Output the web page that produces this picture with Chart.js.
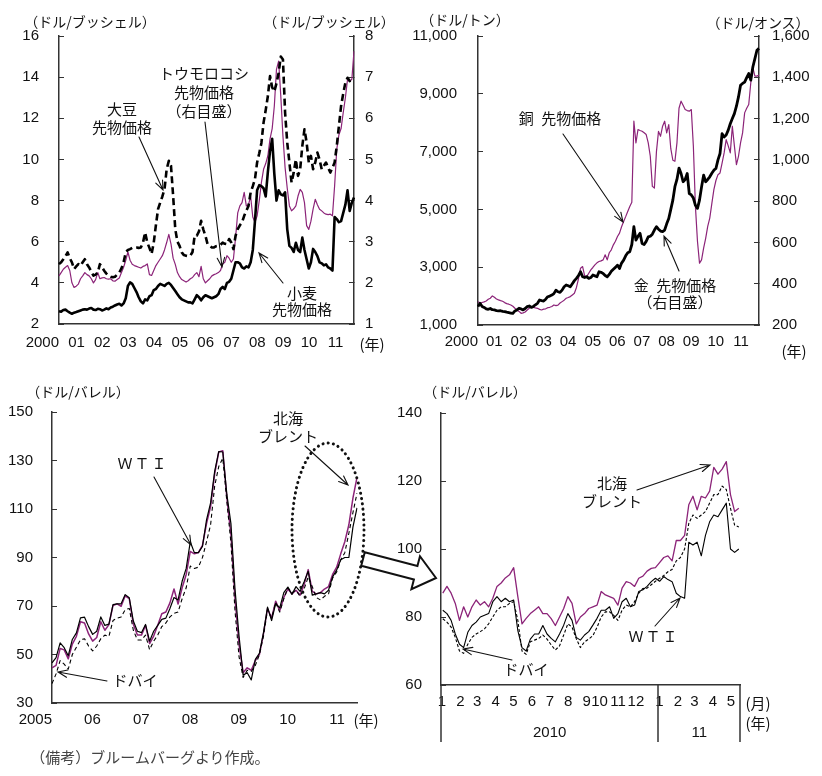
<!DOCTYPE html>
<html><head><meta charset="utf-8">
<script src="https://cdn.jsdelivr.net/npm/chart.js@4.4.1/dist/chart.umd.min.js"></script>
<style>
html,body{margin:0;padding:0;background:#fff;}
body{width:822px;height:776px;position:relative;overflow:hidden;font-family:"Noto Sans CJK JP",sans-serif;color:#111;}
canvas{position:absolute;}
.t{position:absolute;white-space:nowrap;font-size:15px;line-height:18px;text-align:center;transform:translate(-50%,-50%);z-index:5;}
.ti{font-size:14px;}
</style></head><body>
<canvas id="c1" width="410" height="370" style="left:0;top:0"></canvas>
<canvas id="c2" width="422" height="370" style="left:400px;top:0"></canvas>
<canvas id="c3" width="410" height="406" style="left:0;top:370px"></canvas>
<canvas id="c4" width="427" height="406" style="left:395px;top:370px"></canvas>
<canvas id="ov" width="822" height="776" style="left:0;top:0;z-index:4"></canvas>

<div class="t ti" style="left:90px;top:21px">（ドル/ブッシェル）</div>
<div class="t ti" style="left:329px;top:21px">（ドル/ブッシェル）</div>
<div class="t" style="left:372px;top:344px">(年)</div>
<div class="t" style="left:122px;top:118px">大豆<br>先物価格</div>
<div class="t" style="left:204px;top:91px;line-height:19px">トウモロコシ<br>先物価格<br>（右目盛）</div>
<div class="t" style="left:302px;top:301px;line-height:16px">小麦<br>先物価格</div>

<div class="t ti" style="left:465px;top:19px">（ドル/トン）</div>
<div class="t ti" style="left:758px;top:22px">（ドル/オンス）</div>
<div class="t" style="left:794px;top:351px">(年)</div>
<div class="t" style="left:560px;top:118px">銅&ensp;先物価格</div>
<div class="t" style="left:675px;top:293px;line-height:17px">金&ensp;先物価格<br>（右目盛）</div>

<div class="t ti" style="left:78px;top:391px">（ドル/バレル）</div>
<div class="t" style="left:366px;top:720px">(年)</div>
<div class="t" style="left:143px;top:463px;letter-spacing:2px">ＷＴＩ</div>
<div class="t" style="left:288px;top:427px">北海<br>ブレント</div>
<div class="t" style="left:135px;top:680px">ドバイ</div>

<div class="t ti" style="left:475px;top:391px">（ドル/バレル）</div>
<div class="t" style="left:758px;top:703px">(月)</div>
<div class="t" style="left:758px;top:723px">(年)</div>
<div class="t" style="left:612px;top:492px">北海<br>ブレント</div>
<div class="t" style="left:526px;top:669px">ドバイ</div>
<div class="t" style="left:654px;top:636px;letter-spacing:2px">ＷＴＩ</div>

<div class="t" style="left:150px;top:757px;font-size:15px;color:#444">（備考）ブルームバーグより作成。</div>

<script>
// ---------------- DATA ----------------
// Panel 1: grains, monthly Jan 2000 - Jun 2011
const months1 = Array.from({length:138},(_,i)=>`${2000+Math.floor(i/12)}-${String(i%12+1).padStart(2,'0')}`);
const yearTicks1 = ['2000','01','02','03','04','05','06','07','08','09','10','11'];
const wheat = [2.62,2.6,2.68,2.7,2.62,2.55,2.5,2.55,2.58,2.62,2.66,2.7,
 2.72,2.7,2.75,2.78,2.7,2.68,2.74,2.72,2.66,2.7,2.76,2.72,
 2.8,2.84,2.9,2.95,2.98,2.9,3.0,3.25,3.85,4.02,3.95,3.75,
 3.55,3.3,3.1,3.0,3.2,3.15,3.35,3.4,3.65,3.7,3.85,3.95,
 3.9,3.85,3.95,4.0,3.9,3.75,3.6,3.45,3.3,3.2,3.15,3.1,
 3.05,3.05,3.0,3.2,3.4,3.3,3.15,3.3,3.4,3.35,3.3,3.25,
 3.3,3.35,3.45,3.7,3.8,3.7,4.0,4.05,4.2,4.6,5.0,5.0,
 4.95,4.75,4.7,4.8,4.75,5.0,5.6,7.0,8.5,8.75,8.7,8.6,
 8.2,9.4,10.4,11.0,9.3,8.0,8.5,8.3,8.25,8.4,6.6,5.8,
 5.7,5.5,5.95,5.6,5.5,6.2,5.6,5.15,4.7,5.0,5.65,5.5,
 5.3,5.0,4.95,4.85,4.9,4.75,4.7,4.6,7.2,7.1,6.95,7.0,
 7.4,7.8,8.5,7.5,7.9,8.15];
const corn = [2.17,2.25,2.33,2.38,2.42,2.3,2.0,1.89,1.92,1.97,2.1,2.17,
 2.25,2.2,2.17,2.1,2.0,2.08,2.25,2.1,2.12,2.13,2.1,2.09,
 2.1,2.05,2.04,2.08,2.12,2.25,2.38,2.55,2.75,2.55,2.45,2.42,
 2.4,2.38,2.36,2.4,2.42,2.46,2.2,2.18,2.3,2.42,2.5,2.58,
 2.66,2.8,2.98,3.18,2.95,2.6,2.45,2.25,2.15,2.08,2.05,2.02,
 2.05,2.1,2.13,2.2,2.25,2.15,2.4,2.1,2.0,2.05,2.1,2.17,
 2.2,2.22,2.25,2.3,2.46,2.5,2.66,2.6,2.5,2.58,3.1,3.7,
 3.87,3.95,4.2,3.87,3.9,4.1,3.6,3.47,3.63,4.0,4.44,4.76,
 4.9,5.09,5.5,5.75,6.3,7.19,7.39,6.54,5.57,4.8,4.3,3.87,
 3.75,3.8,3.87,4.11,4.27,4.2,3.95,3.39,3.3,3.5,3.79,4.03,
 3.9,3.79,3.75,3.7,3.67,3.66,3.67,3.63,4.36,5.25,5.6,5.75,
 6.14,6.5,6.95,6.9,6.95,7.63];
const soybean = [4.91,5.0,5.15,5.3,5.48,5.2,5.0,4.67,4.8,4.91,4.83,5.0,
 5.15,4.9,4.75,4.55,4.35,4.4,4.5,4.91,4.75,4.59,4.45,4.35,
 4.3,4.27,4.3,4.4,4.5,4.7,5.0,5.48,5.6,5.64,5.7,5.72,
 5.72,5.7,5.72,5.96,6.45,5.96,5.7,5.4,5.96,6.8,7.58,7.9,
 8.2,8.55,9.52,9.93,9.7,8.23,6.61,6.0,5.8,5.48,5.35,5.32,
 5.3,5.32,5.5,6.29,6.29,6.5,7.02,6.6,6.29,5.88,5.8,5.72,
 5.72,5.78,5.8,5.85,5.96,5.9,5.88,6.13,5.96,5.64,6.29,6.61,
 6.8,6.94,7.26,7.5,7.74,8.39,8.7,9.04,9.85,10.3,10.8,11.79,
 12.4,13.08,14.05,13.5,13.3,13.7,14.2,15.0,14.86,12.27,10.82,9.85,
 8.88,9.36,10.0,9.2,9.52,10.66,11.47,10.82,9.85,10.17,9.52,9.85,
 10.33,10.0,9.52,9.69,9.85,9.6,9.36,9.6,9.85,10.66,11.63,12.6,
 13.2,13.73,13.97,13.81,13.85,13.9];

// Panel 2: copper (USD/t) and gold (USD/oz), monthly Jan 2000 - Jun 2011
const copper = [1809,1750,1780,1800,1830,1890,1925,2005,1960,1900,1870,1844,
 1820,1775,1740,1720,1694,1650,1580,1520,1470,1405,1420,1450,
 1520,1580,1636,1610,1590,1578,1540,1520,1550,1560,1600,1612,
 1640,1694,1670,1690,1760,1809,1860,1925,1950,1983,2040,2098,
 2300,2600,2965,3023,2700,2676,2792,2907,2990,3081,3150,3196,
 3220,3254,3428,3254,3500,3601,3774,3900,4063,4179,4400,4584,
 4750,4930,5100,5250,8052,7300,7763,7730,7705,7650,7589,7300,
 6838,5797,5740,7000,7700,7531,7878,8052,7647,7936,7100,6700,
 6664,7300,8500,8745,8600,8456,8420,8398,8456,7185,5104,3900,
 3139,3254,3659,4000,4410,4699,5200,5682,6000,6202,6260,6600,
 6954,7416,7200,6954,7878,7200,6549,6838,7300,7647,8340,8500,
 8630,9381,9901,9612,9612,9650];
const gold = [289,305,290,285,278,276,280,274,273,270,268,269,
 266,265,262,260,258,256,268,273,281,278,273,280,
 289,292,285,290,298,305,321,318,316,325,337,340,
 345,352,369,361,358,369,385,394,390,385,400,415,
 426,440,458,434,430,434,426,430,442,438,434,458,
 455,450,440,434,445,460,470,479,490,474,500,514,
 535,550,555,590,676,611,630,644,595,590,605,627,
 630,640,660,676,664,655,652,660,690,716,760,805,
 870,905,960,934,894,905,934,837,830,815,780,765,
 805,869,926,894,905,918,935,950,958,1000,1031,1127,
 1111,1120,1144,1175,1200,1224,1260,1305,1361,1370,1377,1398,
 1418,1386,1450,1490,1531,1540];

// Panel 3: crude oil, monthly Jan 2005 - Apr 2011
const months3 = Array.from({length:76},(_,i)=>`${2005+Math.floor(i/12)}-${String(i%12+1).padStart(2,'0')}`);
const yearTicks3 = ['2005','06','07','08','09','10','11'];
const wti3 = [46.5,48.7,54.8,52.8,49.5,56.2,58.9,65.1,65.4,61.5,58.3,59.6,
 65.5,62.0,62.5,70.6,70.9,70.9,74.7,73.4,63.8,59.6,59.0,62.4,
 55.5,59.6,62.0,64.5,65.0,69.0,73.5,72.5,80.2,85.5,96.5,92.0,
 92.0,94.6,105.5,112.5,125.5,133.7,133.5,116.0,104.0,77.0,57.5,41.5,
 42.5,39.5,48.0,50.5,59.0,69.5,64.0,71.0,69.2,75.5,77.8,74.8,
 78.0,76.0,80.0,84.3,74.5,75.0,75.5,75.0,76.5,82.0,84.8,89.1,
 90.0,90.0,102.5,110.5];
const brent3 = [44.5,45.5,52.5,51.9,48.2,54.3,57.5,63.5,63.0,58.5,55.5,57.0,
 63.5,60.0,62.3,70.2,70.9,69.9,74.2,73.0,62.5,58.0,58.0,62.0,
 54.5,57.6,62.1,66.8,67.5,71.3,77.0,70.8,77.5,83.0,92.5,91.5,
 92.0,95.0,104.0,111.0,124.5,133.5,134.0,114.5,99.5,73.0,54.0,42.5,
 44.5,43.5,47.5,50.0,58.5,69.0,65.0,72.0,68.0,73.5,77.0,75.0,
 76.5,74.5,78.8,85.0,76.0,75.0,75.5,77.0,78.0,83.0,86.0,91.5,
 96.5,103.5,114.5,123.0];
const dubai3 = [38.0,42.0,47.5,46.0,44.0,50.0,53.0,56.0,56.5,53.5,51.5,53.5,
 56.5,58.0,57.5,64.0,65.0,65.5,68.5,69.0,60.0,56.0,56.0,58.0,
 52.0,55.5,58.0,61.5,63.0,65.5,67.0,67.5,73.0,77.5,86.5,85.5,
 86.0,90.0,96.5,103.5,119.5,127.5,131.0,113.0,96.0,68.0,49.0,40.5,
 43.5,43.0,45.5,50.0,57.5,68.5,65.0,71.5,67.5,73.0,77.5,75.5,
 76.5,74.0,77.0,82.0,78.0,73.5,72.5,74.0,75.0,81.5,84.0,89.0,
 92.0,100.0,108.5,116.5];

// Panel 4: crude oil, weekly from 4 Jan 2010 to mid-May 2011 (x = days since 1 Jan 2010)
const days4 = Array.from({length:72},(_,i)=>3+7*i);
const monthStarts4 = [0,31,59,90,120,151,181,212,243,273,304,334,365,396,424,455,485];
const monthTicks4 = ['1','2','3','4','5','6','7','8','9','10','11','12','1','2','3','4','5'];
const yearTicks4 = ['2010','11'];
const yearStarts4 = [0,365];
const brent4 = [87,89,87,84,79,83,80,83,85,83.5,84.5,83,85.5,89,90,91.5,92.4,94.5,86,78,
 79.6,81,82,83,81,81,79.5,77.5,80,82.5,86,84,78,80,81,82.5,83,83.5,87.5,86.5,
 86,85.5,83.5,88.5,90.4,90,89,91.4,92,93.5,94.3,94.5,96,97.5,98,96.5,102.5,102.5,104,113,
 115.5,111.5,115.5,115,117,124,122,123.5,125.7,116,111,112];
const wti4 = [82,81,79,75,72,71,75.5,77.5,78.5,80,80.5,81,84.5,86,84.5,85.5,84.5,85,76,71,
 70,73.5,75,75,77.5,75,73.7,72.7,75,77.6,81,79,74,73.2,74.7,75.7,
 77.6,79.6,82,82,83,79.6,81,84.5,85.5,83,83.5,87.5,88,89,90.4,91.4,90.5,91.9,91,90.4,
 87,86,85.5,102,101.2,102,98,104,108,110,109.5,111.5,113.5,100,99,100];
const dubai4 = [79.5,78.5,77,74,70,69.3,72,74,75,75.7,76.5,78,80,82,83,83,84,84.5,79,70,
 69,72.7,73.2,73.7,74.7,73.5,71.8,70.3,71.5,74.7,78,77,73.7,71,72.7,73.5,
 74.5,77,80,81.5,81.5,80.5,79,82,83.5,83,84.5,87,88.4,88.5,89.5,90.5,91.4,92.2,93.3,94,
 96.5,97.5,100,107.5,110,109,110,111,113.5,116,116,118.5,117.5,112,107,106.5];

// ---------------- STYLE / HELPERS ----------------
const NUM = '"Liberation Sans", Arial, sans-serif';
const PURPLE = '#8C2479';
const AX = '#333';
Chart.defaults.font.family = NUM;
Chart.defaults.color = '#111';

function yAxis(pos, min, max, step, pad, width, fmt) {
  return {
    type:'linear', position:pos, min:min, max:max,
    ticks:{stepSize:step, padding:pad, color:'#111', font:{family:NUM,size:15}, callback: fmt || (v=>v)},
    grid:{display:true, drawOnChartArea:false, drawTicks:true, tickLength:-5, color:AX, lineWidth:1},
    border:{display:true, color:AX, width:1.5},
    afterFit:s=>{ s.width = width; }
  };
}
function catX(labels, yearTicks, height, pad) {
  return {
    type:'category', offset:false,
    ticks:{autoSkip:false, maxRotation:0, minRotation:0, align:'end', padding:pad, color:'#111',
      font:{family:NUM,size:15},
      callback:(v,i)=> (i%12===0 ? (yearTicks[i/12]||'') : '')},
    grid:{display:true, drawOnChartArea:false, drawTicks:false},
    border:{display:true, color:AX, width:1.5},
    afterFit:s=>{ s.height = height; }
  };
}
function line(label, data, color, width, dash, axis) {
  return {label, data, borderColor:color, borderWidth:width, borderDash:dash||[], yAxisID:axis||'y',
    pointRadius:0, tension:0, fill:false, borderJoinStyle:'round'};
}
const common = {responsive:false, animation:false, devicePixelRatio:1,
  plugins:{legend:{display:false}, tooltip:{enabled:false}}};

// Panel 1
new Chart(document.getElementById('c1'), {
  type:'line',
  data:{labels:months1, datasets:[
    line('小麦', wheat, '#000', 2.6),
    line('大豆', soybean, '#000', 2.6, [7,4]),
    line('トウモロコシ', corn, PURPLE, 1.2, [], 'y2')
  ]},
  options:Object.assign({}, common, {
    layout:{padding:{top:36,left:0,right:0,bottom:0}},
    scales:{
      x:catX(months1, yearTicks1, 46, 10),
      y:yAxis('left', 2, 16, 2, 25, 59),
      y2:yAxis('right', 1, 8, 1, 16, 56)
    }
  })
});

// Panel 2
const fmtC = v => v.toLocaleString('en-US');
new Chart(document.getElementById('c2'), {
  type:'line',
  data:{labels:months1, datasets:[
    line('金', gold, '#000', 2.8, [], 'y2'),
    line('銅', copper, PURPLE, 1.2)
  ]},
  options:Object.assign({}, common, {
    layout:{padding:{top:36,left:0,right:0,bottom:0}},
    scales:{
      x:catX(months1, yearTicks1, 45, 8),
      y:yAxis('left', 1000, 11000, 2000, 26, 78, fmtC),
      y2:yAxis('right', 200, 1600, 200, 18, 63, fmtC)
    }
  })
});

// Panel 3
new Chart(document.getElementById('c3'), {
  type:'line',
  data:{labels:months3, datasets:[
    line('WTI', wti3, '#000', 1.2),
    line('ドバイ', dubai3, '#000', 1.1, [4,3]),
    line('北海ブレント', brent3, PURPLE, 1.5)
  ]},
  options:Object.assign({}, common, {
    layout:{padding:{top:42,left:0,right:53,bottom:0}},
    scales:{
      x:catX(months3, yearTicks3, 73, 8),
      y:yAxis('left', 30, 150, 20, 24, 52)
    }
  })
});

// Panel 4
const p4Axis = {
  id:'p4axis',
  afterDraw(chart){
    const ctx = chart.ctx, xs = chart.scales.x, ca = chart.chartArea;
    ctx.save();
    ctx.fillStyle = '#111';
    ctx.font = '15px ' + NUM;
    ctx.textAlign = 'center'; ctx.textBaseline = 'middle';
    monthStarts4.forEach((d,i)=>{
      const lab = monthTicks4[i];
      const shift = (lab.length===2) ? -4 : 1;
      ctx.fillText(lab, xs.getPixelForValue(d) + shift, ca.bottom + 17);
    });
    const bounds = yearStarts4.concat([xs.max]);
    ctx.strokeStyle = AX; ctx.lineWidth = 1.5;
    bounds.forEach(d=>{
      const x = Math.round(xs.getPixelForValue(d));
      ctx.beginPath(); ctx.moveTo(x, ca.bottom); ctx.lineTo(x, ca.bottom + 57); ctx.stroke();
    });
    yearTicks4.forEach((lab,i)=>{
      const x0 = xs.getPixelForValue(bounds[i]), x1 = xs.getPixelForValue(bounds[i+1]);
      ctx.fillText(lab, (x0+x1)/2, ca.bottom + 48);
    });
    ctx.restore();
  }
};
const pts = arr => days4.map((d,i)=>({x:d, y:arr[i]}));
new Chart(document.getElementById('c4'), {
  type:'line',
  data:{datasets:[
    line('WTI', pts(wti4), '#000', 1.1),
    line('ドバイ', pts(dubai4), '#000', 1.1, [3,2]),
    line('北海ブレント', pts(brent4), PURPLE, 1.3)
  ]},
  options:Object.assign({}, common, {
    layout:{padding:{top:43,left:0,right:82,bottom:0}},
    scales:{
      x:{type:'linear', min:0, max:502,
        ticks:{display:false},
        grid:{display:true, drawOnChartArea:false, drawTicks:false},
        border:{display:true, color:AX, width:1.5},
        afterFit:s=>{ s.height = 91; }},
      y:yAxis('left', 60, 140, 20, 24, 46)
    }
  }),
  plugins:[p4Axis]
});

// ---------------- Overlay: annotation arrows, ellipse, big arrow ----------------
const annotArrows = [
  [139,137,163,190],[205,122,222,267],[283,283,259,253],
  [563,134,623,222],[679,271,664,236],
  [154,477,191,545],[305,446,348,485],[107,681,58,672],
  [637,490,710,465],[512,660,463,649],[655,626,680,598]
];
(function(){
  const ctx = document.getElementById('ov').getContext('2d');
  ctx.strokeStyle = '#111'; ctx.lineWidth = 1.1; ctx.lineCap = 'round';
  annotArrows.forEach(([x1,y1,x2,y2])=>{
    ctx.beginPath(); ctx.moveTo(x1,y1); ctx.lineTo(x2,y2);
    const a = Math.atan2(y2-y1, x2-x1), h = 10, s = 0.38;
    ctx.moveTo(x2 - h*Math.cos(a-s), y2 - h*Math.sin(a-s)); ctx.lineTo(x2,y2);
    ctx.lineTo(x2 - h*Math.cos(a+s), y2 - h*Math.sin(a+s));
    ctx.stroke();
  });
  // dotted ellipse
  ctx.save();
  ctx.setLineDash([0.1,5.2]); ctx.lineWidth = 3; ctx.lineCap = 'round';
  ctx.beginPath(); ctx.ellipse(328,530,36,87,0,0,Math.PI*2); ctx.stroke();
  ctx.restore();
  // hollow arrow
  const sx = 363, sy = 559, ex = 436, ey = 578;
  const ang = Math.atan2(ey-sy, ex-sx), L = Math.hypot(ex-sx, ey-sy);
  ctx.save(); ctx.translate(sx,sy); ctx.rotate(ang);
  ctx.beginPath();
  ctx.moveTo(0,-7); ctx.lineTo(L-21,-7); ctx.lineTo(L-21,-17); ctx.lineTo(L,0);
  ctx.lineTo(L-21,17); ctx.lineTo(L-21,7); ctx.lineTo(0,7); ctx.closePath();
  ctx.fillStyle = '#fff'; ctx.fill();
  ctx.setLineDash([]); ctx.lineWidth = 2; ctx.strokeStyle = '#111'; ctx.lineJoin = 'miter';
  ctx.stroke();
  ctx.restore();
})();
</script>
</body></html>
